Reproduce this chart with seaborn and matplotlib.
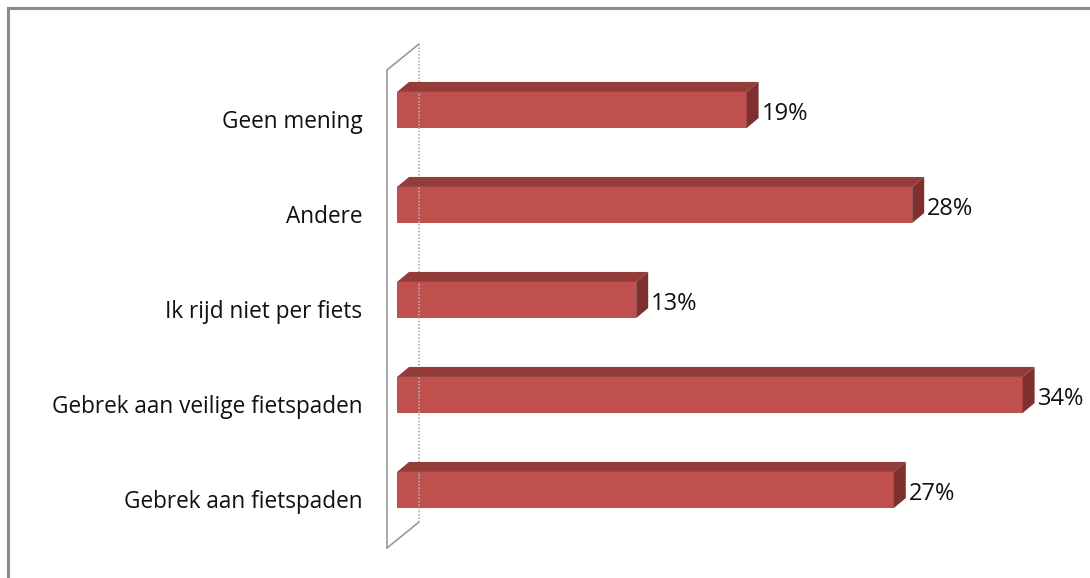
import matplotlib
matplotlib.use("Agg")
import matplotlib.pyplot as plt
import matplotlib.transforms as mtransforms
import seaborn as sns
import pandas as pd
from matplotlib.patches import Polygon, Rectangle
from matplotlib.lines import Line2D

categories = [
    "Geen mening",
    "Andere",
    "Ik rijd niet per fiets",
    "Gebrek aan veilige fietspaden",
    "Gebrek aan fietspaden",
]
values = [19, 28, 13, 34, 27]
value_labels = ["19%", "28%", "13%", "34%", "27%"]

front_color = "#C0504D"
top_color = "#943C3A"
side_color = "#7D302E"

sns.set_theme(style="white")
plt.rcParams["font.family"] = ["Open Sans", "DejaVu Sans"]

W, H = 1090, 578
fig = plt.figure(figsize=(W / 100, H / 100), dpi=100)
fig.patch.set_facecolor("white")

# plot area in pixel units
ax_left, ax_top, ax_bottom = 397, 62.5, 537.5
px_per_unit = 18.4
xmax = 36
ax = fig.add_axes([ax_left / W, (H - ax_bottom) / H,
                   xmax * px_per_unit / W, (ax_bottom - ax_top) / H])
ax.patch.set_alpha(0)

df = pd.DataFrame({"cat": categories, "val": values})
sns.barplot(data=df, x="val", y="cat", orient="h", color=front_color,
            width=0.38, saturation=1, ax=ax, zorder=3, linewidth=0)
ax.set_xlim(0, xmax)
ax.set_ylim(len(categories) - 0.5, -0.5)
for s in ax.spines.values():
    s.set_visible(False)
ax.set_xticks([])
ax.set_xlabel("")
ax.set_ylabel("")
ax.tick_params(axis="y", length=0, pad=25, labelsize=16.3, labelcolor="#111111")
shift = mtransforms.ScaledTranslation(0, -9 / 100, fig.dpi_scale_trans)
for lbl in ax.get_yticklabels():
    lbl.set_transform(lbl.get_transform() + shift)

fig.canvas.draw()

# 3-D depth faces of each bar (offset in pixels)
dx, dy = 12, 10
for p, lab in zip(ax.patches, value_labels):
    x0, y0 = p.get_x(), p.get_y()
    x1, y1 = x0 + p.get_width(), y0 + p.get_height()
    (dx0, dya), (dx1, dyb) = ax.transData.transform([(x0, y0), (x1, y1)])
    top_y = max(dya, dyb)
    bot_y = min(dya, dyb)
    top = Polygon([(dx0, top_y), (dx1, top_y), (dx1 + dx, top_y + dy),
                   (dx0 + dx, top_y + dy)], closed=True, transform=None,
                  facecolor=top_color, edgecolor="none", zorder=2)
    side = Polygon([(dx1, top_y), (dx1 + dx, top_y + dy), (dx1 + dx, bot_y + dy),
                    (dx1, bot_y)], closed=True, transform=None,
                   facecolor=side_color, edgecolor="none", zorder=2)
    fig.patches.extend([top, side])
    fig.text((dx1 + 15) / W, ((top_y + bot_y) / 2 - 4) / H, lab,
             ha="left", va="center", fontsize=17, color="#111111")

# wall frame on the left
def px(x, y):
    return (x / W, (H - y) / H)

frame_col = "#9a9a9a"
fx, bx = 387, 419
fig.lines.append(Line2D(*zip(px(fx, 70), px(fx, 548)), transform=fig.transFigure,
                        color=frame_col, lw=1.2))
fig.lines.append(Line2D(*zip(px(bx, 44), px(bx, 522)), transform=fig.transFigure,
                        color="#b0b0b0", lw=1.2, ls=(0, (1, 1))))
for (ya, yb) in [(70, 44), (548, 522)]:
    fig.lines.append(Line2D(*zip(px(fx, ya), px(bx, yb)), transform=fig.transFigure,
                            color=frame_col, lw=1.2))

# outer chart border (right and bottom edges fall outside the canvas)
fig.patches.append(Rectangle((7.5, -100), 1300, H - 7.5 + 100, transform=None,
                             fill=False, edgecolor="#8c8c8c", lw=2.2))

fig.savefig("out.png", dpi=100, facecolor="white")
